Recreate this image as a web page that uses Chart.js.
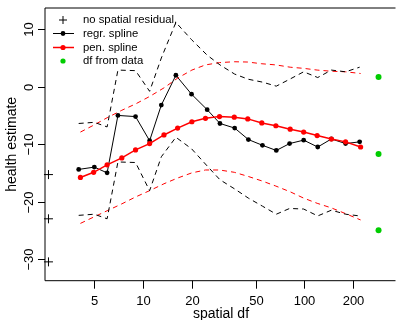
<!DOCTYPE html>
<html>
<head>
<meta charset="utf-8">
<script src="https://cdn.jsdelivr.net/npm/chart.js@4"></script>
<style>
  html, body { margin: 0; padding: 0; background: #fff; overflow: hidden; }
  #wrap { width: 396px; height: 320px; }
</style>
</head>
<body>
<div id="wrap"><canvas id="chart" width="396" height="320"></canvas></div>
<script>
// regression spline (integer df)
const regrDf  = [4, 5, 6, 7, 9, 11, 13, 16, 20, 25, 30, 37, 45, 55, 67, 81, 99, 121, 147, 180, 220];
const regrEst = [-14.4, -14.0, -15.0, -5.0, -5.2, -9.4, -3.2, 2.0, -1.3, -4.0, -6.4, -7.2, -9.2, -10.2, -11.1, -9.9, -9.3, -10.5, -9.1, -9.9, -9.6];
const regrHi  = [-6.4, -6.2, -7.0, 2.9, 2.8, -0.8, 5.0, 11.2, 8.2, 5.5, 3.8, 2.2, 1.3, 0.8, 0.1, 1.3, 2.6, 1.6, 2.9, 2.6, 3.4];
const regrLo  = [-22.4, -22.2, -23.0, -13.1, -13.2, -18.1, -12.2, -8.8, -10.8, -13.8, -16.2, -17.8, -19.4, -20.8, -22.2, -21.2, -21.3, -22.5, -21.5, -22.2, -22.5];

// penalized spline (effective df)
const penDf  = [4.1, 4.95, 6.0, 7.4, 9.0, 11.0, 13.5, 16.4, 20.1, 24.4, 29.8, 36.8, 44.6, 54.5, 66.6, 81.7, 99, 120, 147, 180, 223];
const penEst = [-15.8, -14.9, -13.6, -12.4, -11.0, -9.9, -8.4, -7.2, -6.1, -5.5, -5.2, -5.3, -5.6, -6.3, -6.8, -7.4, -7.9, -8.5, -9.1, -9.6, -10.5];
const penHi  = [-7.9, -6.7, -5.4, -4.1, -3.0, -1.7, -0.2, 1.5, 2.9, 3.8, 4.2, 4.35, 4.3, 4.0, 3.8, 3.4, 3.2, 2.9, 2.7, 2.6, 2.3];
const penLo  = [-23.8, -22.7, -21.6, -20.4, -19.2, -18.1, -16.9, -15.9, -15.0, -14.5, -14.5, -14.9, -15.6, -16.4, -17.3, -18.3, -19.4, -20.3, -21.1, -22.1, -23.2];

// no spatial residual: estimate and interval
const noSpatDf  = 2.6;
const noSpatEst = [-15.3, -23.0, -30.5];

// df chosen from data: estimate and interval
const dataDf  = 288;
const dataEst = [1.7, -11.7, -25.0];

const xTicks = [5, 10, 20, 50, 100, 200];
const yTicks = [-30, -20, -10, 0, 10];
const legendLabels = ['no spatial residual,', 'regr. spline', 'pen. spline', 'df from data'];

const pts = (xs, ys) => xs.map((x, i) => ({ x: x, y: ys[i] }));
const FONT = '"Liberation Sans", Arial, Helvetica, sans-serif';
const GREEN = '#00cd00';

function dashed(data, color) {
  return { data: data, borderColor: color, borderWidth: 1, borderDash: [5, 4],
           pointRadius: 0, fill: false, clip: false };
}

const axesPlugin = {
  id: 'rAxes',
  afterDraw(chart) {
    const ctx = chart.ctx;
    const xs = chart.scales.x, ys = chart.scales.y;
    const a = chart.chartArea;
    ctx.save();
    ctx.strokeStyle = '#000';
    ctx.lineWidth = 1;
    // box (right side falls outside the picture)
    ctx.beginPath();
    ctx.moveTo(a.right + 5, a.top);
    ctx.lineTo(a.left, a.top);
    ctx.lineTo(a.left, a.bottom);
    ctx.lineTo(a.right + 5, a.bottom);
    ctx.stroke();

    ctx.fillStyle = '#000';
    ctx.font = '13px ' + FONT;
    // x ticks
    ctx.textAlign = 'center';
    ctx.textBaseline = 'middle';
    xTicks.forEach(v => {
      const px = Math.round(xs.getPixelForValue(v)) + 0.5;
      ctx.beginPath();
      ctx.moveTo(px, a.bottom);
      ctx.lineTo(px, a.bottom + 8);
      ctx.stroke();
      ctx.fillText(String(v), px, a.bottom + 21);
    });
    // y ticks (rotated labels)
    yTicks.forEach(v => {
      const py = Math.round(ys.getPixelForValue(v)) + 0.5;
      ctx.beginPath();
      ctx.moveTo(a.left, py);
      ctx.lineTo(a.left - 7, py);
      ctx.stroke();
      ctx.save();
      ctx.translate(a.left - 16, py);
      ctx.rotate(-Math.PI / 2);
      ctx.fillText(String(v).replace('-', '\u2212'), 0, 0);
      ctx.restore();
    });
    // axis titles
    ctx.font = '14px ' + FONT;
    ctx.fillText('spatial df', 221, 314);
    ctx.save();
    ctx.translate(12, (a.top + a.bottom) / 2);
    ctx.rotate(-Math.PI / 2);
    ctx.fillText('health estimate', 0, 0);
    ctx.restore();

    // legend
    const lx = 63, tx = 83;
    const ly = [20, 33.5, 47.5, 61];
    ctx.font = '11.3px ' + FONT;
    ctx.textAlign = 'left';
    legendLabels.forEach((t, i) => ctx.fillText(t, tx, ly[i]));
    // plus
    ctx.beginPath();
    ctx.moveTo(lx - 4, ly[0]); ctx.lineTo(lx + 4, ly[0]);
    ctx.moveTo(lx, ly[0] - 4); ctx.lineTo(lx, ly[0] + 4);
    ctx.stroke();
    // regr. spline
    ctx.beginPath();
    ctx.moveTo(lx - 10, ly[1]); ctx.lineTo(lx + 11, ly[1]);
    ctx.stroke();
    ctx.beginPath(); ctx.arc(lx, ly[1], 2.4, 0, Math.PI * 2); ctx.fill();
    // pen. spline
    ctx.strokeStyle = '#ff0000'; ctx.fillStyle = '#ff0000'; ctx.lineWidth = 1.5;
    ctx.beginPath();
    ctx.moveTo(lx - 10, ly[2]); ctx.lineTo(lx + 11, ly[2]);
    ctx.stroke();
    ctx.beginPath(); ctx.arc(lx, ly[2], 2.6, 0, Math.PI * 2); ctx.fill();
    // df from data
    ctx.fillStyle = GREEN;
    ctx.beginPath(); ctx.arc(lx, ly[3], 2.6, 0, Math.PI * 2); ctx.fill();
    ctx.restore();
  }
};

new Chart(document.getElementById('chart'), {
  type: 'line',
  data: {
    datasets: [
      dashed(pts(regrDf, regrHi), '#000'),
      dashed(pts(regrDf, regrLo), '#000'),
      dashed(pts(penDf, penHi), '#ff0000'),
      dashed(pts(penDf, penLo), '#ff0000'),
      { data: pts(penDf, penEst), borderColor: '#ff0000', backgroundColor: '#ff0000',
        borderWidth: 1.5, pointRadius: 2.6, pointBorderWidth: 0, fill: false, clip: false },
      { data: pts(regrDf, regrEst), borderColor: '#000', backgroundColor: '#000',
        borderWidth: 1, pointRadius: 2.4, pointBorderWidth: 0, fill: false, clip: false },
      { data: noSpatEst.map(y => ({ x: noSpatDf, y: y })), showLine: false,
        pointStyle: 'cross', pointRadius: 4.5, borderColor: '#000', pointBorderWidth: 1, clip: false },
      { data: dataEst.map(y => ({ x: dataDf, y: y })), showLine: false,
        pointRadius: 3, pointBorderWidth: 0, backgroundColor: GREEN, borderColor: GREEN, clip: false }
    ]
  },
  options: {
    responsive: false,
    animation: false,
    devicePixelRatio: 1,
    layout: { padding: { left: 45, right: 0, top: 8, bottom: 39.3 } },
    plugins: { legend: { display: false }, tooltip: { enabled: false } },
    scales: {
      x: { type: 'logarithmic', min: 2.474, max: 341.6, display: false },
      y: { type: 'linear', min: -33.78, max: 13.71, display: false }
    }
  },
  plugins: [axesPlugin]
});
</script>
</body>
</html>
